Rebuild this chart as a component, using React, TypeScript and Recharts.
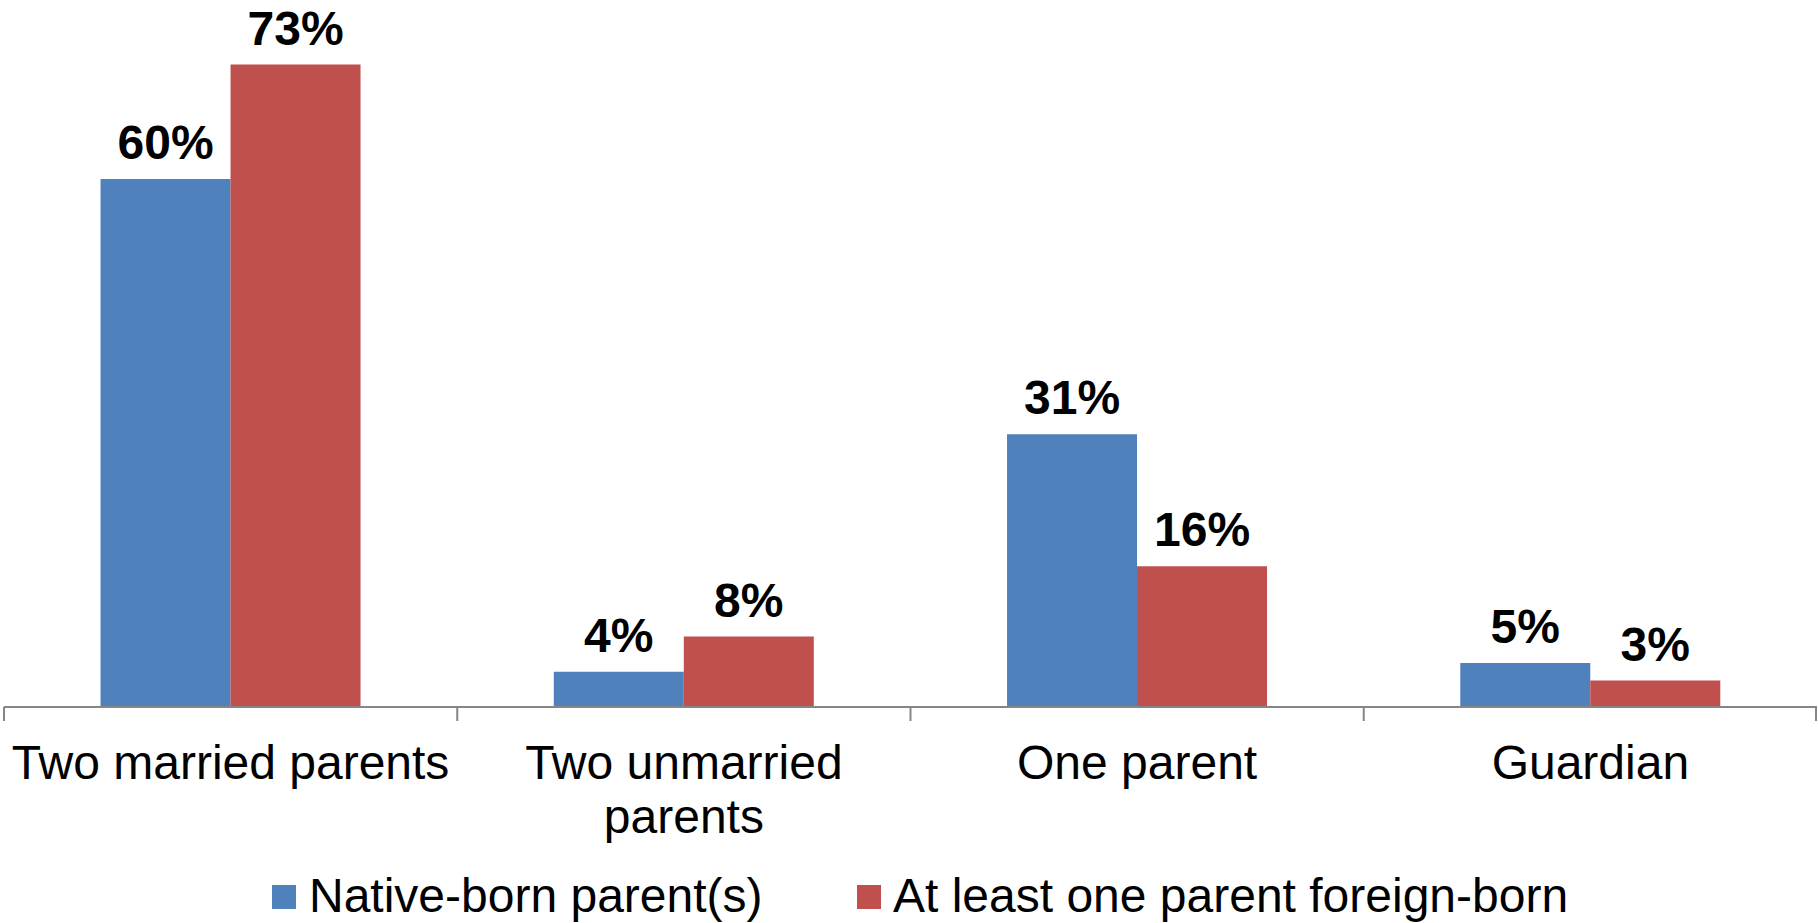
import { BarChart, Bar, XAxis, YAxis, LabelList } from 'recharts';

const categories = ['Two married parents', 'Two unmarried parents', 'One parent', 'Guardian'];
const nativeBorn = [60, 4, 31, 5];
const foreignBorn = [73, 8, 16, 3];
const seriesNames = ['Native-born parent(s)', 'At least one parent foreign-born'];

const BLUE = '#4F81BD';
const RED = '#C0504D';
const AXIS = '#868686';
const FONT = '"Liberation Sans", Arial, sans-serif';

const W = 1818;
const H = 923;
const MARGIN = { top: 3, right: 1, left: 4, bottom: 0 };
const PLOT_W = W - MARGIN.left - MARGIN.right;
const MAX_CHARS = 19;

const data = categories.map((name, i) => ({
  name,
  native: nativeBorn[i],
  foreign: foreignBorn[i],
}));

// greedy word wrap for the category labels
function wrap(label: string): string[] {
  const lines: string[] = [];
  let cur = '';
  for (const w of label.split(' ')) {
    const next = cur ? `${cur} ${w}` : w;
    if (next.length > MAX_CHARS && cur) {
      lines.push(cur);
      cur = w;
    } else {
      cur = next;
    }
  }
  if (cur) lines.push(cur);
  return lines;
}

// tick marks sit between categories, not under them
function CategoryTick(props: any) {
  const { x, y, payload, index } = props;
  const band = PLOT_W / categories.length;
  const last = index === categories.length - 1;
  return (
    <g>
      <line x1={x - band / 2} y1={y} x2={x - band / 2} y2={y + 14} stroke={AXIS} strokeWidth={2} />
      {last && <line x1={x + band / 2 - 1} y1={y} x2={x + band / 2 - 1} y2={y + 14} stroke={AXIS} strokeWidth={2} />}
      <text x={x} y={y + 72} textAnchor="middle" fill="#000" fontSize={48} fontFamily={FONT}>
        {wrap(payload.value).map((line, i) => (
          <tspan key={i} x={x} dy={i === 0 ? 0 : 54}>
            {line}
          </tspan>
        ))}
      </text>
    </g>
  );
}

const pct = (v: any) => `${v}%`;

export default function App() {
  return (
    <div style={{ position: 'absolute', left: 0, top: 0, width: W, height: H, background: '#fff' }}>
      <BarChart width={W} height={H} data={data} margin={MARGIN} barCategoryGap="21.3%" barGap={0}>
        <XAxis
          dataKey="name"
          height={216}
          interval={0}
          tickLine={false}
          tickSize={0}
          tickMargin={0}
          axisLine={{ stroke: AXIS, strokeWidth: 2 }}
          tick={<CategoryTick />}
        />
        <YAxis hide domain={[0, 80]} />
        <Bar dataKey="native" name={seriesNames[0]} fill={BLUE} isAnimationActive={false}>
          <LabelList
            dataKey="native"
            position="top"
            offset={20}
            formatter={pct}
            fill="#000"
            style={{ fontSize: 48, fontWeight: 'bold', fontFamily: FONT }}
          />
        </Bar>
        <Bar dataKey="foreign" name={seriesNames[1]} fill={RED} isAnimationActive={false}>
          <LabelList
            dataKey="foreign"
            position="top"
            offset={20}
            formatter={pct}
            fill="#000"
            style={{ fontSize: 48, fontWeight: 'bold', fontFamily: FONT }}
          />
        </Bar>
      </BarChart>
      <svg width={W} height={60} style={{ position: 'absolute', left: 0, top: 863 }}>
        <rect x={272} y={22} width={24} height={24} fill={BLUE} />
        <text x={309} y={49} fontSize={48} fontFamily={FONT} fill="#000">
          {seriesNames[0]}
        </text>
        <rect x={857} y={22} width={24} height={24} fill={RED} />
        <text x={893} y={49} fontSize={48} fontFamily={FONT} fill="#000">
          {seriesNames[1]}
        </text>
      </svg>
    </div>
  );
}
